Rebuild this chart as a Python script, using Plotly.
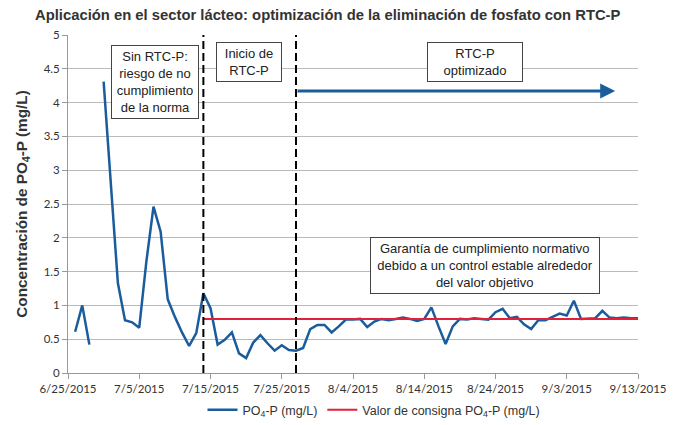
import plotly.graph_objects as go
import pandas as pd

start = pd.Timestamp("2015-06-25")
# day offsets from 6/25/2015 and PO4-P values (mg/L); None = gap
days = [1, 2, 3, 4, 5, 7, 8, 9, 10, 11, 12, 13, 14, 15, 16, 17, 18, 19, 20,
        21, 22, 23, 24, 25, 26, 27, 28, 29, 30, 31, 32, 33, 34, 35, 36, 37, 38,
        39, 40, 41, 42, 43, 44, 45, 46, 47, 48, 49, 50, 51, 52, 53, 54, 55, 56,
        57, 58, 59, 60, 61, 62, 63, 64, 65, 66, 67, 68, 69, 70, 71, 72, 73, 74,
        75, 76, 77, 78, 79, 80]
po4 = [0.61, 1.0, 0.42, None, 4.31, 1.33, 0.78, 0.75, 0.67, 1.65, 2.46, 2.09, 1.09,
       0.83, 0.60, 0.40, 0.59, 1.18, 0.96,
       0.42, 0.49, 0.60, 0.29, 0.22, 0.45, 0.56, 0.44, 0.33, 0.41, 0.34, 0.33,
       0.37, 0.65, 0.71, 0.71, 0.60, 0.69,
       0.79, 0.79, 0.80, 0.68, 0.76, 0.80, 0.78, 0.80, 0.82, 0.80, 0.77, 0.80,
       0.97, 0.69, 0.43, 0.69, 0.80, 0.79,
       0.81, 0.80, 0.79, 0.90, 0.95, 0.81, 0.83, 0.72, 0.65, 0.78, 0.78, 0.83,
       0.88, 0.85, 1.07, 0.80, 0.80, 0.81,
       0.92, 0.82, 0.81, 0.82, 0.81, 0.81]
setpoint_days = [19, 80]
setpoint = [0.8, 0.8]
phase_days = [19, 32]          # dashed phase separators (7/14, 7/27)
arrow_days = [32, 76.8]
arrow_level = 4.17

x_ticks_days = list(range(0, 81, 10))
y_ticks = [0, 0.5, 1, 1.5, 2, 2.5, 3, 3.5, 4, 4.5, 5]

def d(n):
    return start + pd.Timedelta(days=n)

blue = "#1a5c9c"
red = "#e2203a"

# page body has an 8px default margin: figure is drawn 8px right/down
OFF = 8
W, H = 675 - OFF, 425 - OFF
L, R, T, B = 68 - OFF, 37, 35 - OFF, 52
PW, PH = W - L - R, H - T - B

def px(xpix):
    return (xpix - OFF - L) / PW

def py(ypix):
    return 1 - (ypix - OFF - T) / PH

fig = go.Figure()
fig.add_trace(go.Scatter(x=[d(n) for n in days], y=po4, mode="lines",
                         line=dict(color=blue, width=2.5),
                         name="PO<sub>4</sub>-P (mg/L)", connectgaps=False))
fig.add_trace(go.Scatter(x=[d(n) for n in setpoint_days], y=setpoint, mode="lines",
                         line=dict(color=red, width=2),
                         name="Valor de consigna PO<sub>4</sub>-P (mg/L)"))

for pdn in phase_days:
    fig.add_shape(type="line", xref="x", yref="paper", x0=d(pdn), x1=d(pdn),
                  y0=0, y1=1, line=dict(color="black", width=2, dash="8px,4px"))

fig.add_annotation(x=d(arrow_days[1]), y=arrow_level, ax=d(arrow_days[0]), ay=arrow_level,
                   xref="x", yref="y", axref="x", ayref="y", showarrow=True,
                   arrowhead=2, arrowsize=1, arrowwidth=3, arrowcolor=blue, text="")

box = dict(showarrow=False, bordercolor="#444", borderwidth=1, bgcolor="white",
           font=dict(family="Liberation Sans, Arial", size=13, color="#222"),
           xref="paper", yref="paper", borderpad=3, xanchor="center", yanchor="middle")
fig.add_annotation(text="Sin RTC-P:<br>riesgo de no<br>cumplimiento<br>de la norma",
                   x=px(155), y=py(82), width=80, **box)
fig.add_annotation(text="Inicio de<br>RTC-P", x=px(249), y=py(62), width=58, **box)
fig.add_annotation(text="RTC-P<br>optimizado", x=px(475), y=py(61.5), width=88, **box)
fig.add_annotation(text="Garantía de cumplimiento normativo<br>debido a un control estable alrededor<br>del valor objetivo",
                   x=px(485), y=py(265), width=222, **box)

fig.update_layout(
    width=W, height=H,
    margin=dict(l=L, r=R, t=T, b=B, autoexpand=False),
    paper_bgcolor="white", plot_bgcolor="white",
    title=dict(text="<b>Aplicación en el sector lácteo: optimización de la eliminación de fosfato con RTC-P</b>",
               x=(35 - OFF) / W, xanchor="left", y=1 - (15 - OFF) / H, yanchor="middle",
               font=dict(family="Liberation Sans, Arial", size=14.8, color="#333")),
    legend=dict(orientation="h", x=px(374), xanchor="center", xref="paper",
                y=1 - (410 - OFF) / H, yanchor="middle", yref="container",
                font=dict(family="Liberation Sans, Arial", size=12.5, color="#333"),
                itemwidth=30),
    showlegend=True,
)
fig.update_xaxes(range=[d(0), d(80)], tickvals=[d(n) for n in x_ticks_days],
                 tickformat="%-m/%-d/%Y", showgrid=False, showline=True, automargin=False,
                 linecolor="#999", ticks="outside", ticklen=5, tickcolor="#999",
                 tickfont=dict(family="Lato", size=11.5, color="#333"))
fig.update_yaxes(range=[0, 5], tickvals=y_ticks, showgrid=True, gridcolor="#bbb",
                 showline=True, linecolor="#999", ticks="outside", ticklen=5, tickcolor="#999",
                 automargin=False,
                 tickfont=dict(family="Lato", size=11.5, color="#333"),
                 title=dict(text="<b>Concentración de PO<sub>4</sub>-P (mg/L)</b>",
                            font=dict(family="Liberation Sans, Arial", size=15.3, color="#333"),
                            standoff=12),
                 zeroline=False)

fig.write_html("out.html")
